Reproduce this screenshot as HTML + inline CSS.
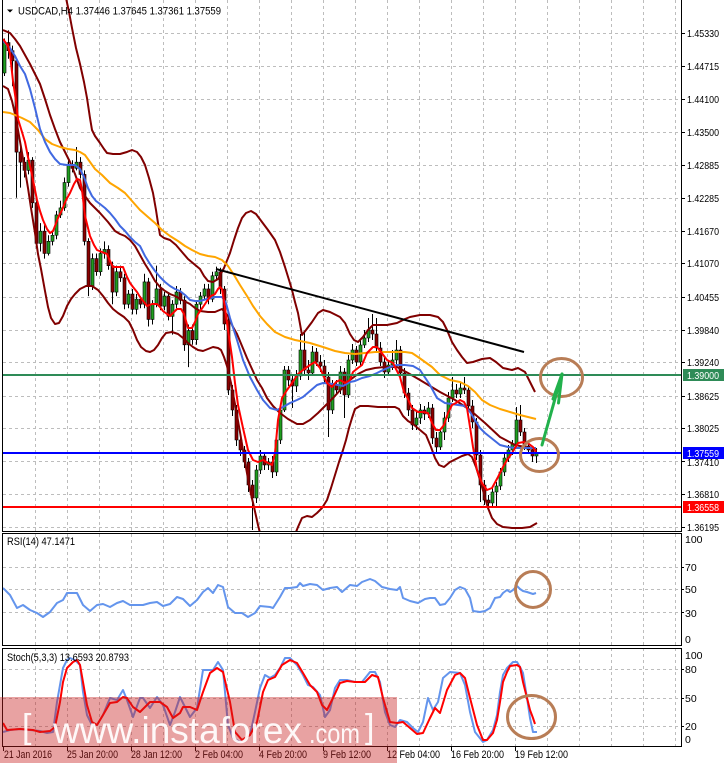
<!DOCTYPE html>
<html><head><meta charset="utf-8"><style>
html,body{margin:0;padding:0;background:#fff;}
svg{display:block;}
</style></head><body>
<svg width="724" height="767" viewBox="0 0 724 767" xmlns="http://www.w3.org/2000/svg" font-family="'Liberation Sans', Arial, sans-serif">
<defs>
<clipPath id="cm"><rect x="3" y="0" width="678" height="531"/></clipPath>
<clipPath id="cr"><rect x="3" y="534" width="678" height="111"/></clipPath>
<clipPath id="cs"><rect x="3" y="649" width="678" height="97"/></clipPath>
<clipPath id="call"><rect x="3" y="0" width="678" height="531"/><rect x="3" y="534" width="678" height="111"/><rect x="3" y="649" width="678" height="97"/></clipPath>
</defs>
<rect width="724" height="767" fill="#fff"/>

<!-- grid -->
<g stroke="#bdbdbd" stroke-width="1" stroke-dasharray="3 3" fill="none">
<path clip-path="url(#call)" d="M35.5 0V746M67.5 0V746M99.5 0V746M131.5 0V746M163.5 0V746M195.5 0V746M227.5 0V746M259.5 0V746M291.5 0V746M323.5 0V746M355.5 0V746M387.5 0V746M419.5 0V746M451.5 0V746M483.5 0V746M515.5 0V746M547.5 0V746M579.5 0V746M611.5 0V746M643.5 0V746M675.5 0V746"/>
<path d="M3 33.5H681M3 66.5H681M3 99.5H681M3 132.5H681M3 165.5H681M3 198.5H681M3 231.5H681M3 263.5H681M3 297.5H681M3 330.5H681M3 362.5H681M3 396.5H681M3 428.5H681M3 461.5H681M3 494.5H681M3 527.5H681"/>
<path d="M3 567.5H681M3 589.5H681M3 612.5H681M3 669.5H681M3 698.5H681M3 726.5H681"/>
</g>

<!-- candles -->
<g clip-path="url(#cm)">
<g transform="matrix(1 0 0 1.014 0 0)">
<path stroke="#000" stroke-width="1" fill="none" d="M4.5 38V75M8.5 30V58M12.5 45V85M16.5 58V195M20.5 140V185M24.5 155V175M28.5 150V172M32.5 155V205M36.5 198V245M40.5 220V248M44.5 222V255M48.5 232V252M52.5 228V242M56.5 208V236M60.5 198V215M64.5 175V208M68.5 158V184M72.5 158V170M76.5 145V168M80.5 155V176M84.5 168V242M88.5 235V292M92.5 250V286M96.5 250V272M100.5 245V272M104.5 238V255M108.5 242V266M112.5 258V300M116.5 262V292M120.5 262V278M124.5 270V305M128.5 286V304M132.5 285V310M136.5 290V310M140.5 292V304M144.5 270V304M148.5 274V322M152.5 296V320M156.5 262V303M160.5 280V306M164.5 288V306M168.5 288V316M172.5 296V330M176.5 282V304M180.5 284V300M184.5 292V346M188.5 320V362M192.5 320V340M196.5 296V340M200.5 288V305M204.5 280V296M208.5 280V300M212.5 268V298M216.5 263V276M220.5 264V290"/>
<path fill="#1f9e1f" stroke="#000" stroke-width="0.6" d="M3 42h3v30h-3zM27 158h3v10h-3zM39 228h3v12h-3zM47 238h3v12h-3zM51 232h3v6h-3zM55 212h3v20h-3zM59 205h3v7h-3zM63 180h3v25h-3zM67 163h3v17h-3zM75 160h3v6h-3zM91 255h3v27h-3zM99 250h3v18h-3zM103 246h3v4h-3zM115 268h3v20h-3zM127 290h3v10h-3zM135 295h3v10h-3zM143 278h3v22h-3zM151 300h3v15h-3zM155 285h3v15h-3zM163 292h3v10h-3zM171 300h3v12h-3zM175 288h3v12h-3zM187 326h3v14h-3zM195 300h3v35h-3zM199 292h3v8h-3zM203 285h3v7h-3zM211 272h3v23h-3zM215 268h3v4h-3z"/>
<path fill="#8b0000" stroke="#000" stroke-width="0.6" d="M7 42h3v8h-3zM11 50h3v10h-3zM15 60h3v90h-3zM19 150h3v10h-3zM23 160h3v8h-3zM31 158h3v42h-3zM35 200h3v40h-3zM43 228h3v22h-3zM71 163h3v3h-3zM79 160h3v12h-3zM83 172h3v66h-3zM87 238h3v44h-3zM95 255h3v13h-3zM107 246h3v16h-3zM111 262h3v26h-3zM119 268h3v6h-3zM123 274h3v26h-3zM131 290h3v15h-3zM139 295h3v5h-3zM147 278h3v37h-3zM159 285h3v17h-3zM167 292h3v20h-3zM179 288h3v8h-3zM183 296h3v44h-3zM191 326h3v9h-3zM207 285h3v10h-3zM219 268h3v17h-3z"/>
</g>
<path stroke="#000" stroke-width="1" fill="none" d="M224.5 286V330M228.5 318V395M232.5 385V416M236.5 405V446M240.5 436V456M244.5 446V468M248.5 458V492M252.5 480V530M256.5 465V503M260.5 450V474M264.5 452V470M268.5 458V470M272.5 456V478M276.5 436V476M280.5 405V444M284.5 366V412M288.5 366V386M292.5 375V408M296.5 370V392M300.5 334V380M304.5 333V376M308.5 360V380M312.5 346V376M316.5 348V366M320.5 355V372M324.5 360V383M328.5 372V437M332.5 380V414M336.5 380V394M340.5 366V394M344.5 368V418M348.5 355V398M352.5 344V364M356.5 346V366M360.5 340V366M364.5 330V348M368.5 318V342M372.5 314V340M376.5 318V352M380.5 342V366M384.5 356V378M388.5 360V376M392.5 350V370M396.5 340V364M400.5 346V380M404.5 368V398M408.5 388V416M412.5 405V430M416.5 412V430M420.5 404V424M424.5 406V420M428.5 402V418M432.5 404V444M436.5 432V452M440.5 428V450M444.5 412V440M448.5 392V422M452.5 377V402M456.5 384V398M460.5 382V398M464.5 377V394M468.5 386V410M472.5 400V428M476.5 418V460M480.5 450V502M484.5 480V505M488.5 495V507M492.5 488V506M496.5 482V506M500.5 468V490M504.5 454V476M508.5 445V462M512.5 440V455M516.5 407V447M520.5 405V436M524.5 428V450M528.5 440V454M532.5 446V462M536.5 448V463"/>
<path fill="#1f9e1f" stroke="#000" stroke-width="0.6" d="M255 470h3v28h-3zM259 456h3v14h-3zM267 462h3v3h-3zM275 440h3v32h-3zM279 410h3v30h-3zM283 370h3v40h-3zM295 376h3v10h-3zM299 350h3v26h-3zM311 352h3v21h-3zM331 385h3v25h-3zM339 372h3v18h-3zM347 360h3v35h-3zM351 350h3v10h-3zM359 345h3v17h-3zM363 338h3v7h-3zM367 330h3v8h-3zM387 365h3v7h-3zM391 360h3v5h-3zM395 350h3v10h-3zM415 418h3v7h-3zM419 410h3v8h-3zM427 408h3v6h-3zM439 432h3v15h-3zM443 418h3v14h-3zM447 398h3v20h-3zM451 390h3v8h-3zM459 388h3v6h-3zM491 492h3v11h-3zM495 486h3v6h-3zM499 472h3v14h-3zM503 458h3v14h-3zM507 450h3v8h-3zM511 444h3v6h-3zM515 420h3v24h-3zM535 453h3v3h-3z"/>
<path fill="#8b0000" stroke="#000" stroke-width="0.6" d="M223 289h3v35h-3zM227 320h3v70h-3zM231 390h3v20h-3zM235 410h3v30h-3zM239 440h3v10h-3zM243 450h3v12h-3zM247 462h3v23h-3zM251 485h3v13h-3zM263 456h3v9h-3zM271 462h3v10h-3zM287 370h3v10h-3zM291 380h3v6h-3zM303 350h3v20h-3zM307 370h3v3h-3zM315 352h3v10h-3zM319 362h3v4h-3zM323 366h3v11h-3zM327 377h3v33h-3zM335 385h3v5h-3zM343 372h3v23h-3zM355 350h3v12h-3zM371 330h3v4h-3zM375 334h3v14h-3zM379 348h3v14h-3zM383 362h3v10h-3zM399 350h3v23h-3zM403 373h3v20h-3zM407 393h3v17h-3zM411 410h3v15h-3zM423 410h3v4h-3zM431 408h3v30h-3zM435 438h3v9h-3zM455 390h3v4h-3zM463 388h3v2h-3zM467 390h3v16h-3zM471 406h3v16h-3zM475 422h3v33h-3zM479 455h3v30h-3zM483 485h3v15h-3zM487 500h3v3h-3zM519 420h3v12h-3zM523 432h3v14h-3zM527 446h3v4h-3zM531 450h3v6h-3z"/>

<!-- Bollinger bands -->
<g fill="none" stroke="#800000" stroke-width="2" stroke-linejoin="round">
<polyline points="66,-2 69,12 72,28 76,48 80,64 84,82 87,98 90,118 92,130 95,136 100,143 104,149 107,153 113,154 120,154 127,152 132,150 137,152 141,157 145,165 149,178 153,193 156,210 158,223 160,235 164,238 170,240 176,245 182,252 188,259 194,264 200,269 204,276 208,281 213,282 218,279 224,268 230,253 234,240 238,228 242,218 246,213 251,211 256,214 262,222 268,230 275,240 280,252 285,267 289,280 292,290 295,302 298,313 302,335 306,330 312,322 318,313 323,310 330,312 336,315 340,317 345,323 350,334 354,340 358,342 363,337 368,330 373,325 380,325 387,325 397,323 405,319 410,317 420,315 430,315 438,317 443,322 447,330 452,342 457,350 462,357 467,363 473,362 482,359 490,358 496,362 503,368 512,370 518,368 525,372 530,382 535,392"/>
<polyline points="3,30 10,33 15,39 20,46 25,55 30,64 35,74 40,84 45,99 50,115 55,129 60,142 65,152 70,162 75,174 80,188 85,196 90,203 95,208 100,213 108,222 115,231 120,234 125,236 130,240 135,246 140,255 145,264 150,272 155,281 160,287 165,291 170,294 175,296 182,300 190,304 195,308 200,311 208,312 215,312 222,309 228,316 233,327 237,334 242,346 247,358 252,369 257,380 262,388 267,398 273,406 280,413 288,419 297,424 303,424 310,420 318,413 326,405 334,397 342,388 350,380 358,374 366,370 375,368 385,367 397,367 408,373 420,380 430,386 440,392 455,400 470,410 485,423 500,437 515,445 530,448 537,450"/>
<polyline points="3,86 8,89 12,101 15,114 18,130 21,147 25,170 28,188 31,208 35,233 38,254 41,269 45,291 48,307 51,318 55,324 59,323 63,316 67,306 71,299 75,294 80,289 86,286 92,286 98,290 103,296 108,303 113,309 118,313 124,317 129,322 133,330 137,340 141,347 146,351 150,352 154,350 158,345 162,338 166,333 172,332 178,334 183,338 188,343 193,347 198,350 203,351 208,349 213,347 218,348 221,350 224,357 227,366 231,383 235,404 240,432 245,462 250,490 254,507 258,525 261,537"/>
<polyline points="294,537 298,527 302,518 307,516 312,517 317,513 322,508 327,500 331,488 335,475 339,462 343,450 346,440 349,428 352,418 355,409 360,406 368,406 378,407 388,407 395,407 399,409 403,416 408,421 413,424 420,430 426,435 431,447 435,458 439,465 444,467 450,462 456,459 462,456 468,454 472,457 476,467 480,480 484,494 488,508 492,518 497,524 503,527 512,528 522,528 530,527 537,523"/>
</g>
<!-- moving averages -->
<polyline fill="none" stroke="#ffa500" stroke-width="2" stroke-linejoin="round" points="3,112 10,113 15,115 22,118 30,122 38,130 45,139 52,144 60,147 68,149 75,150 80,152 85,155 90,162 95,169 102,175 110,183 118,188 125,193 132,201 140,210 148,217 155,223 162,230 170,236 178,241 185,246 192,250 200,254 208,256 215,257 222,260 228,266 234,275 240,285 247,296 253,306 260,316 267,324 275,332 285,337 295,340 310,343 323,347 335,351 345,353 355,354 365,353 375,352 385,352 395,352 405,352 412,353 418,357 425,362 432,367 440,375 450,380 460,382 468,386 475,392 482,400 490,405 500,409 510,412 520,415 528,417 536,419"/>
<polyline fill="none" stroke="#4169e1" stroke-width="2" stroke-linejoin="round" points="3,41 10,48 15,56 20,66 25,74 30,89 35,108 40,129 45,142 50,152 55,159 60,164 67,165 75,165 80,169 84,177 88,188 92,196 96,201 100,204 105,208 110,213 115,219 120,226 125,231 130,237 135,242 140,246 145,256 150,264 155,271 160,277 165,282 170,286 175,289 180,291 185,295 190,300 195,301 200,301 207,299 215,297 222,297 226,303 230,318 237,340 243,360 250,377 257,390 263,400 270,408 277,410 283,407 290,403 297,400 303,397 310,391 317,385 323,383 333,384 343,386 350,382 355,381 362,378 370,376 377,373 383,370 390,367 397,365 405,365 413,366 420,370 430,385 437,398 445,403 458,405 465,406 470,412 475,420 480,428 485,433 490,437 495,441 500,445 508,447 515,448 525,448 536,448"/>
<polyline fill="none" stroke="#ff0000" stroke-width="2" stroke-linejoin="round" points="3,39 8,46 10,54 13,81 16,101 18,119 22,132 25,142 28,157 32,175 37,200 40,211 43,220 47,229 50,233 53,231 55,226 58,218 62,210 66,200 70,193 74,184 77,179 80,180 82,190 85,216 88,228 90,236 94,245 97,250 102,252 107,254 110,261 113,267 118,267 123,267 127,277 130,283 133,287 137,292 140,297 144,302 147,306 152,304 157,304 160,307 163,311 167,314 170,316 174,312 177,309 181,309 184,314 188,328 192,328 195,322 198,314 203,307 207,301 211,296 215,294 218,289 220,287 222,289 225,308 228,330 232,357 235,383 238,405 243,428 248,450 253,460 258,462 263,460 268,463 272,465 275,453 278,420 282,398 287,390 292,383 298,374 303,370 310,365 315,362 320,368 324,377 327,383 332,387 336,382 340,380 345,383 350,380 353,372 358,368 362,365 367,353 373,347 377,347 381,352 387,360 393,363 400,377 404,392 407,397 412,408 418,412 423,412 428,413 432,423 436,430 440,430 444,425 448,413 452,405 456,403 460,400 464,402 467,408 470,427 473,447 477,470 482,483 487,490 492,488 498,477 503,467 507,460 512,453 518,443 524,442 529,444 533,447 536,452"/>
<!-- trendline -->
<line x1="216" y1="269" x2="524" y2="352" stroke="#000" stroke-width="2"/>
<!-- level lines -->
<path d="M3 375H681" stroke="#2e8b57" stroke-width="2"/>
<path d="M3 453H681" stroke="#0000ff" stroke-width="2"/>
<path d="M3 507H681" stroke="#ff0000" stroke-width="2"/>
</g>

<!-- RSI -->
<polyline clip-path="url(#cr)" fill="none" stroke="#6495ed" stroke-width="2" stroke-linejoin="round" points="3,588 10,595 17,608 23,605 30,610 37,613 43,617 50,612 57,603 63,600 67,593 77,593 83,605 90,611 97,605 103,604 110,607 117,603 123,601 130,605 137,605 143,605 150,603 157,602 163,606 170,604 177,597 183,599 190,606 197,600 203,592 208,588 213,593 218,585 223,587 228,607 235,613 242,613 248,617 255,613 260,606 270,607 273,608 280,597 285,588 290,588 297,587 300,583 303,586 310,584 317,585 323,590 330,588 337,587 342,592 350,585 357,586 362,582 370,579 375,581 382,587 390,589 397,590 400,587 403,598 410,601 418,603 425,599 430,598 435,598 440,605 445,604 450,598 455,590 460,587 465,589 470,598 473,611 480,612 485,611 490,608 495,598 500,597 503,593 507,590 510,592 513,590 517,586 520,589 523,591 527,592 530,593 533,594 536,593"/>

<!-- Stochastic -->
<g clip-path="url(#cs)" fill="none" stroke-width="2" stroke-linejoin="round">
<polyline stroke="#6495ed" points="3,732 10,730 20,729 30,730 40,731 47,733 53,732 57,702 60,685 63,668 67,660 70,658 75,660 80,665 83,692 87,715 92,725 97,725 103,715 110,698 117,700 123,690 127,700 133,717 140,698 143,698 150,708 157,697 163,705 170,725 175,712 180,697 185,707 190,717 197,708 203,670 213,670 218,662 223,670 228,725 233,738 240,742 250,735 255,712 260,688 265,675 270,678 275,675 280,668 285,658 290,658 297,665 303,675 308,685 313,687 320,695 325,717 330,710 335,688 340,680 347,680 355,682 362,682 370,672 375,672 380,682 385,712 390,725 395,727 400,720 407,722 413,728 418,732 423,722 428,698 433,710 438,702 443,678 450,672 460,673 465,685 470,712 475,732 483,742 487,740 493,730 497,715 500,692 503,675 507,668 510,665 513,662 517,662 520,667 523,673 527,698 530,718 533,732 537,732"/>
<polyline stroke="#ff0000" points="3,723 7,730 20,729 33,730 40,732 50,731 55,727 60,702 63,682 67,668 73,662 77,660 80,665 83,682 87,705 92,722 97,725 103,715 110,703 117,702 123,697 127,698 133,707 140,712 150,702 160,702 167,707 173,718 180,713 183,707 190,707 197,710 203,692 210,673 217,668 223,672 230,702 235,732 242,740 250,735 257,722 263,692 268,680 275,677 282,665 290,660 297,663 303,673 310,685 317,692 322,705 327,710 333,698 340,683 347,681 355,682 365,682 372,675 378,677 383,698 390,722 397,723 403,722 410,728 417,734 423,733 430,718 435,708 440,713 447,690 455,675 460,673 465,678 470,698 477,725 483,740 487,740 493,733 497,720 500,702 503,682 507,672 510,666 517,665 520,667 523,682 527,698 530,710 533,718 535,724"/>
</g>

<!-- annotations -->
<g fill="none" stroke="#b87d56" stroke-width="3">
<ellipse cx="561.5" cy="377.5" rx="21" ry="19"/>
<ellipse cx="539.5" cy="455" rx="19" ry="16.5"/>
<ellipse cx="533" cy="589.5" rx="17.5" ry="18"/>
<ellipse cx="531.5" cy="717" rx="24" ry="21.5"/>
</g>
<g stroke="#22b14c" stroke-width="3" fill="none" stroke-linecap="round">
<line x1="542" y1="445" x2="562" y2="374"/>
<line x1="562" y1="374" x2="553" y2="399"/>
<line x1="562" y1="374" x2="558.5" y2="403"/>
</g>

<!-- panel frames -->
<g fill="none" stroke="#000" stroke-width="1">
<rect x="2.5" y="-1" width="679" height="532.5"/>
<rect x="2.5" y="533.5" width="679" height="112"/>
<rect x="2.5" y="648.5" width="679" height="98"/>
<path d="M681 33.5h4M681 66.5h4M681 99.5h4M681 132.5h4M681 165.5h4M681 198.5h4M681 231.5h4M681 263.5h4M681 297.5h4M681 330.5h4M681 362.5h4M681 396.5h4M681 428.5h4M681 461.5h4M681 494.5h4M681 527.5h4M681 567.5h3M681 589.5h3M681 612.5h3M681 669.5h3M681 698.5h3M681 726.5h3"/>
<path d="M3.5 746v5M67.5 746v5M131.5 746v5M195.5 746v5M259.5 746v5M323.5 746v5M387.5 746v5M451.5 746v5M515.5 746v5"/>
</g>

<!-- texts -->
<path d="M7 9.5h6l-3 3z" fill="#000"/>
<text x="18" y="14.5" font-size="11" fill="#000" textLength="203" lengthAdjust="spacingAndGlyphs">USDCAD,H4  1.37446 1.37645 1.37361 1.37559</text>
<text x="7" y="545" font-size="11" fill="#000" textLength="68" lengthAdjust="spacingAndGlyphs">RSI(14) 47.1471</text>
<text x="7" y="661" font-size="11" fill="#000" textLength="122" lengthAdjust="spacingAndGlyphs">Stoch(5,3,3) 13.6593 20.8793</text>

<g font-size="10.5" fill="#000">
<text x="687" y="37" textLength="32" lengthAdjust="spacingAndGlyphs">1.45330</text>
<text x="687" y="70" textLength="32" lengthAdjust="spacingAndGlyphs">1.44715</text>
<text x="687" y="103" textLength="32" lengthAdjust="spacingAndGlyphs">1.44100</text>
<text x="687" y="136" textLength="32" lengthAdjust="spacingAndGlyphs">1.43500</text>
<text x="687" y="169" textLength="32" lengthAdjust="spacingAndGlyphs">1.42885</text>
<text x="687" y="202" textLength="32" lengthAdjust="spacingAndGlyphs">1.42285</text>
<text x="687" y="235" textLength="32" lengthAdjust="spacingAndGlyphs">1.41670</text>
<text x="687" y="267" textLength="32" lengthAdjust="spacingAndGlyphs">1.41070</text>
<text x="687" y="301" textLength="32" lengthAdjust="spacingAndGlyphs">1.40455</text>
<text x="687" y="334" textLength="32" lengthAdjust="spacingAndGlyphs">1.39840</text>
<text x="687" y="366" textLength="32" lengthAdjust="spacingAndGlyphs">1.39240</text>
<text x="687" y="400" textLength="32" lengthAdjust="spacingAndGlyphs">1.38625</text>
<text x="687" y="432" textLength="32" lengthAdjust="spacingAndGlyphs">1.38025</text>
<text x="687" y="466" textLength="32" lengthAdjust="spacingAndGlyphs">1.37410</text>
<text x="687" y="498" textLength="32" lengthAdjust="spacingAndGlyphs">1.36810</text>
<text x="687" y="531" textLength="32" lengthAdjust="spacingAndGlyphs">1.36195</text>
<text x="685" y="543">100</text>
<text x="685" y="571">70</text>
<text x="685" y="593">50</text>
<text x="685" y="617">30</text>
<text x="685" y="643">0</text>
<text x="685" y="659">100</text>
<text x="685" y="673">80</text>
<text x="685" y="702">50</text>
<text x="685" y="730">20</text>
<text x="685" y="743">0</text>
</g>

<!-- price label boxes -->
<rect x="683" y="369" width="41" height="12" fill="#2e8b57"/>
<rect x="683" y="447" width="41" height="12" fill="#0000ff"/>
<rect x="683" y="501" width="41" height="12" fill="#ff0000"/>
<g font-size="10.5" fill="#fff">
<text x="687" y="379" textLength="32" lengthAdjust="spacingAndGlyphs">1.39000</text>
<text x="687" y="457" textLength="32" lengthAdjust="spacingAndGlyphs">1.37559</text>
<text x="687" y="511" textLength="32" lengthAdjust="spacingAndGlyphs">1.36558</text>
</g>

<!-- time axis -->
<g font-size="11" fill="#000">
<text x="4" y="758" textLength="48" lengthAdjust="spacingAndGlyphs">21 Jan 2016</text>
<text x="67" y="758" textLength="51" lengthAdjust="spacingAndGlyphs">25 Jan 20:00</text>
<text x="131" y="758" textLength="51" lengthAdjust="spacingAndGlyphs">28 Jan 12:00</text>
<text x="195" y="758" textLength="48" lengthAdjust="spacingAndGlyphs">2 Feb 04:00</text>
<text x="259" y="758" textLength="48" lengthAdjust="spacingAndGlyphs">4 Feb 20:00</text>
<text x="323" y="758" textLength="48" lengthAdjust="spacingAndGlyphs">9 Feb 12:00</text>
<text x="387" y="758" textLength="53" lengthAdjust="spacingAndGlyphs">12 Feb 04:00</text>
<text x="451" y="758" textLength="53" lengthAdjust="spacingAndGlyphs">16 Feb 20:00</text>
<text x="515" y="758" textLength="53" lengthAdjust="spacingAndGlyphs">19 Feb 12:00</text>
</g>

<!-- watermark -->
<rect x="0" y="697" width="397" height="66" fill="rgb(200,30,30)" fill-opacity="0.41"/>
<g fill="#fff" fill-opacity="0.92">
<text x="22" y="738" font-size="34">[</text>
<text x="53" y="743" font-size="37" textLength="249" lengthAdjust="spacingAndGlyphs">www.instaforex</text>
<text x="309" y="743" font-size="28" textLength="51" lengthAdjust="spacingAndGlyphs">.com</text>
<text x="365" y="738" font-size="34">]</text>
</g>
</svg>
</body></html>
